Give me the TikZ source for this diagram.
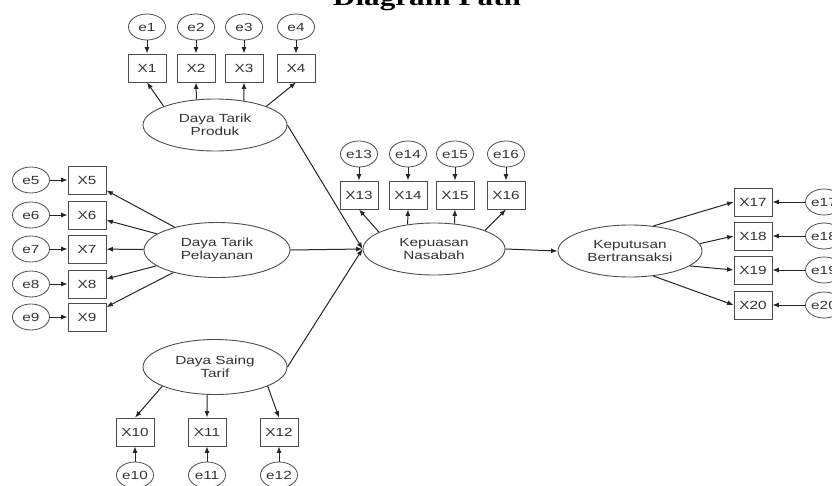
\documentclass[tikz,border=0pt]{standalone}
\usepackage{fontspec}
\setmainfont{Liberation Sans}
\newfontfamily\diagfont[FakeStretch=1.3]{Liberation Sans}
\newfontfamily\titlefont[FakeStretch=1.3]{Liberation Serif}
\usetikzlibrary{arrows.meta, shapes.geometric}
\definecolor{edgegray}{HTML}{4D4D4D}
\definecolor{textgray}{HTML}{333333}
\tikzstyle{latent} = [ellipse, draw=edgegray, line width=0.9pt, minimum width=144pt, minimum height=52pt, inner sep=0pt, align=center, text=textgray, font=\diagfont\fontsize{11.8}{13.5}\selectfont]
\tikzstyle{indicator} = [rectangle, draw=edgegray, line width=0.8pt, minimum width=38pt, minimum height=28pt, inner sep=0pt, text=textgray, font=\diagfont\fontsize{11.8}{13.5}\selectfont]
\tikzstyle{errterm} = [ellipse, draw=edgegray, line width=0.8pt, minimum width=37pt, minimum height=26pt, inner sep=0pt, text=textgray, font=\diagfont\fontsize{11.8}{13.5}\selectfont]
\tikzstyle{loading} = [-{Latex[length=6.5pt, width=5pt]}, line width=1pt, black!85]

\begin{document}
\begin{tikzpicture}[x=1pt, y=-1pt]
    \useasboundingbox (0,0) rectangle (832,485);

    % Title (cut at the top edge)
    \node[anchor=base, font=\titlefont\bfseries\fontsize{24}{28}\selectfont] (title) at (427,5) {Diagram Path};

    % Latent variables
    \node[latent] (prod) at (215,125) {Daya Tarik\\Produk};
    \node[latent, minimum width=146pt, minimum height=55pt] (pel) at (217,250) {Daya Tarik\\Pelayanan};
    \node[latent, minimum height=55pt] (saing) at (215,367) {Daya Saing\\Tarif};
    \node[latent, minimum width=142pt] (kep) at (434,249) {Kepuasan\\Nasabah};
    \node[latent] (kept) at (630,251) {Keputusan\\Bertransaksi};

    % Daya Tarik Produk indicators
    \node[indicator] (x1) at (147,68) {X1};
    \node[indicator] (x2) at (196,68) {X2};
    \node[indicator] (x3) at (244,68) {X3};
    \node[indicator] (x4) at (296,68) {X4};
    \node[errterm] (e1) at (147,27) {e1};
    \node[errterm] (e2) at (196,27) {e2};
    \node[errterm] (e3) at (244,27) {e3};
    \node[errterm] (e4) at (296,27) {e4};

    % Daya Tarik Pelayanan indicators
    \node[indicator] (x5) at (87,180) {X5};
    \node[indicator] (x6) at (87,215) {X6};
    \node[indicator] (x7) at (87,249) {X7};
    \node[indicator] (x8) at (87,284) {X8};
    \node[indicator] (x9) at (87,317) {X9};
    \node[errterm] (e5) at (31,180) {e5};
    \node[errterm] (e6) at (31,215) {e6};
    \node[errterm] (e7) at (31,249) {e7};
    \node[errterm] (e8) at (31,284) {e8};
    \node[errterm] (e9) at (31,317) {e9};

    % Daya Saing Tarif indicators
    \node[indicator] (x10) at (135,432) {X10};
    \node[indicator] (x11) at (207,432) {X11};
    \node[indicator] (x12) at (279,432) {X12};
    \node[errterm] (e10) at (135,475) {e10};
    \node[errterm] (e11) at (207,475) {e11};
    \node[errterm] (e12) at (279,475) {e12};

    % Kepuasan Nasabah indicators
    \node[indicator] (x13) at (359,195) {X13};
    \node[indicator] (x14) at (408,195) {X14};
    \node[indicator] (x15) at (455,195) {X15};
    \node[indicator] (x16) at (506,195) {X16};
    \node[errterm] (e13) at (359,154) {e13};
    \node[errterm] (e14) at (408,154) {e14};
    \node[errterm] (e15) at (455,154) {e15};
    \node[errterm] (e16) at (506,154) {e16};

    % Keputusan Bertransaksi indicators
    \node[indicator] (x17) at (753,202) {X17};
    \node[indicator] (x18) at (753,236) {X18};
    \node[indicator] (x19) at (753,270) {X19};
    \node[indicator] (x20) at (753,305) {X20};
    \node[errterm] (e17) at (824,202) {e17};
    \node[errterm] (e18) at (824,236) {e18};
    \node[errterm] (e19) at (824,270) {e19};
    \node[errterm] (e20) at (824,305) {e20};

    % Loadings
    \draw[loading] (prod.160) -- (x1.south);
    \draw[loading] (prod.126) -- (x2.south);
    \draw[loading] (prod.40) -- (x3.south);
    \draw[loading] (prod.20) -- (x4.south);
    \draw[loading] (pel) -- (x5);
    \draw[loading] (pel) -- (x6);
    \draw[loading] (pel) -- (x7);
    \draw[loading] (pel) -- (x8);
    \draw[loading] (pel) -- (x9);
    \draw[loading] (saing.200) -- (x10.north);
    \draw[loading] (saing.254) -- (x11.north);
    \draw[loading] (saing.340) -- (x12.north);
    \draw[loading] (kep.163) -- (x13.south);
    \draw[loading] (kep.137) -- (x14.south);
    \draw[loading] (kep.51) -- (x15.south);
    \draw[loading] (kep.20) -- (x16.south);
    \draw[loading] (kept.47) -- (x17.west);
    \draw[loading] (kept.6) -- (x18.west);
    \draw[loading] (kept.346) -- (x19.west);
    \draw[loading] (kept.313) -- (x20.west);

    % Error terms
    \draw[loading] (e1) -- (x1);
    \draw[loading] (e2) -- (x2);
    \draw[loading] (e3) -- (x3);
    \draw[loading] (e4) -- (x4);
    \draw[loading] (e5) -- (x5);
    \draw[loading] (e6) -- (x6);
    \draw[loading] (e7) -- (x7);
    \draw[loading] (e8) -- (x8);
    \draw[loading] (e9) -- (x9);
    \draw[loading] (e10) -- (x10);
    \draw[loading] (e11) -- (x11);
    \draw[loading] (e12) -- (x12);
    \draw[loading] (e13) -- (x13);
    \draw[loading] (e14) -- (x14);
    \draw[loading] (e15) -- (x15);
    \draw[loading] (e16) -- (x16);
    \draw[loading] (e17) -- (x17);
    \draw[loading] (e18) -- (x18);
    \draw[loading] (e19) -- (x19);
    \draw[loading] (e20) -- (x20);

    % Structural paths
    \draw[loading] (prod.east) -- (kep.west);
    \draw[loading] (pel.east) -- (kep.west);
    \draw[loading] (saing.east) -- (kep.west);
    \draw[loading] (kep.east) -- (kept.west);
\end{tikzpicture}
\end{document}
